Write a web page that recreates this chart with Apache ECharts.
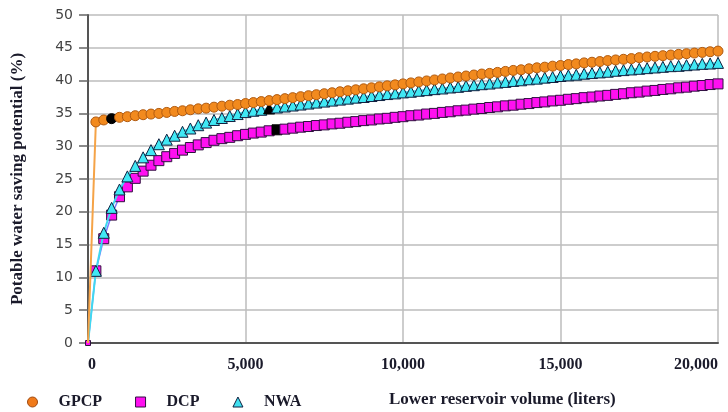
<!DOCTYPE html>
<html>
<head>
<meta charset="utf-8">
<script src="https://cdn.jsdelivr.net/npm/echarts@6/dist/echarts.min.js"></script>
<style>
  html, body { margin: 0; padding: 0; background: #fff; }
  #chart { width: 728px; height: 412px; }
</style>
</head>
<body>
<div id="chart"></div>
<script>
// 下部储水罐容积（升）
const volumes = [
  0, 250, 500, 750, 1000, 1250, 1500, 1750, 2000, 2250,
  2500, 2750, 3000, 3250, 3500, 3750, 4000, 4250, 4500, 4750,
  5000, 5250, 5500, 5750, 6000, 6250, 6500, 6750, 7000, 7250,
  7500, 7750, 8000, 8250, 8500, 8750, 9000, 9250, 9500, 9750,
  10000, 10250, 10500, 10750, 11000, 11250, 11500, 11750, 12000, 12250,
  12500, 12750, 13000, 13250, 13500, 13750, 14000, 14250, 14500, 14750,
  15000, 15250, 15500, 15750, 16000, 16250, 16500, 16750, 17000, 17250,
  17500, 17750, 18000, 18250, 18500, 18750, 19000, 19250, 19500, 19750,
  20000
]

const gpcp = [
  0, 33.7, 34.0, 34.2, 34.4, 34.5, 34.65, 34.8, 34.9, 35.0,
  35.15, 35.3, 35.4, 35.55, 35.7, 35.8, 35.95, 36.1, 36.25, 36.35,
  36.5, 36.65, 36.8, 36.95, 37.1, 37.25, 37.4, 37.55, 37.7, 37.85,
  38.0, 38.15, 38.3, 38.45, 38.6, 38.75, 38.9, 39.05, 39.2, 39.35,
  39.5, 39.65, 39.8, 39.95, 40.1, 40.25, 40.4, 40.55, 40.7, 40.85,
  41.0, 41.1, 41.25, 41.4, 41.55, 41.65, 41.8, 41.95, 42.05, 42.2,
  42.3, 42.45, 42.55, 42.7, 42.8, 42.9, 43.05, 43.15, 43.25, 43.35,
  43.5, 43.6, 43.7, 43.8, 43.9, 44.0, 44.1, 44.2, 44.3, 44.4,
  44.5
]

const dcp = [
  0, 11.0, 15.9, 19.5, 22.3, 23.8, 25.1, 26.2, 27.1, 27.8,
  28.4, 28.9, 29.4, 29.8, 30.2, 30.55, 30.9, 31.15, 31.35, 31.6,
  31.8, 32.0, 32.15, 32.35, 32.5, 32.6, 32.75, 32.9, 33.0, 33.15,
  33.25, 33.4, 33.5, 33.65, 33.75, 33.9, 34.0, 34.15, 34.25, 34.4,
  34.5, 34.65, 34.75, 34.9, 35.0, 35.15, 35.25, 35.4, 35.5, 35.65,
  35.75, 35.9, 36.0, 36.15, 36.25, 36.4, 36.5, 36.65, 36.75, 36.9,
  37.0, 37.15, 37.25, 37.4, 37.5, 37.65, 37.75, 37.9, 38.0, 38.15,
  38.25, 38.4, 38.5, 38.65, 38.75, 38.9, 39.0, 39.15, 39.25, 39.4,
  39.5
]

const nwa = [
  0, 11.0, 16.8, 20.6, 23.4, 25.4, 27.0, 28.3, 29.4, 30.3,
  31.0, 31.6, 32.2, 32.7, 33.2, 33.6, 34.0, 34.3, 34.6, 34.9,
  35.2, 35.4, 35.55, 35.75, 35.9, 36.05, 36.2, 36.35, 36.5, 36.65,
  36.8, 36.95, 37.1, 37.25, 37.4, 37.5, 37.65, 37.8, 37.95, 38.05,
  38.2, 38.3, 38.45, 38.55, 38.7, 38.8, 38.95, 39.05, 39.2, 39.3,
  39.45, 39.55, 39.7, 39.8, 39.95, 40.05, 40.2, 40.3, 40.45, 40.55,
  40.7, 40.8, 40.9, 41.05, 41.15, 41.25, 41.35, 41.5, 41.6, 41.7,
  41.8, 41.9, 42.0, 42.1, 42.2, 42.25, 42.35, 42.45, 42.55, 42.6,
  42.7
]

// 黑色标记点所在容积
const markGPCP = 750
const markDCP = 6000
const markNWA = 5750

const serif = '"Liberation Serif", "Times New Roman", serif'
const textColor = '#1a1a2a'

// 起点(0升)的标记大小单独处理
const toPoints = (ys, mark, firstSize) => volumes.map((v, i) => {
  if (v === mark) {
    return { value: [v, ys[i]], itemStyle: { color: '#000', borderColor: '#000' } }
  }
  if (i === 0) {
    return { value: [v, ys[i]], symbolSize: firstSize }
  }
  return [v, ys[i]]
})

const chart = echarts.init(document.getElementById('chart'))

const option = {
  animation: false,
  backgroundColor: '#fff',
  grid: {
    left: 88,
    right: 10,
    top: 15,
    bottom: 69,
    outerBoundsMode: 'none',
  },
  title: {
    text: 'Lower reservoir volume (liters)',
    left: 384,
    top: 386,
    textStyle: {
      fontFamily: serif,
      fontWeight: 'bold',
      fontSize: 17,
      color: textColor,
    },
  },
  legend: {
    left: 22,
    top: 389,
    itemWidth: 10,
    itemHeight: 10,
    itemGap: 33,
    textStyle: {
      fontFamily: serif,
      fontWeight: 'bold',
      fontSize: 16,
      color: textColor,
      padding: [0, 0, 0, 16],
    },
    data: [
      { name: 'GPCP', icon: 'circle', itemStyle: { color: '#F07A1A', borderColor: '#A04A10', borderWidth: 1 } },
      { name: 'DCP', icon: 'rect', itemStyle: { color: '#FF10F0', borderColor: '#301040', borderWidth: 1 } },
      { name: 'NWA', icon: 'triangle', itemStyle: { color: '#40E0F0', borderColor: '#102040', borderWidth: 1 } },
    ],
  },
  xAxis: {
    type: 'value',
    min: 0,
    max: 20000,
    interval: 5000,
    axisLine: { lineStyle: { color: '#555', width: 2 } },
    axisTick: { show: false },
    axisLabel: {
      margin: 14,
      fontFamily: serif,
      fontWeight: 'bold',
      fontSize: 16,
      color: textColor,
      alignMinLabel: 'left',
      alignMaxLabel: 'right',
      formatter: (v) => v.toLocaleString('en-US'),
    },
    splitLine: { show: true, lineStyle: { color: '#bcbcbc', width: 1.5 } },
  },
  yAxis: {
    type: 'value',
    min: 0,
    max: 50,
    interval: 5,
    name: 'Potable water saving potential (%)',
    nameLocation: 'middle',
    nameGap: 62,
    nameTextStyle: {
      fontFamily: serif,
      fontWeight: 'bold',
      fontSize: 17,
      color: textColor,
    },
    axisLine: { show: true, lineStyle: { color: '#555', width: 2 } },
    axisTick: { show: true, length: 9, lineStyle: { color: '#666', width: 1.5 } },
    axisLabel: {
      margin: 15,
      fontFamily: '"DejaVu Sans", Verdana, sans-serif',
      fontSize: 14,
      color: '#444',
    },
    splitLine: { show: true, lineStyle: { color: '#bcbcbc', width: 1.5 } },
  },
  series: [
    {
      name: 'DCP',
      type: 'line',
      data: toPoints(dcp, markDCP, 5),
      symbol: 'rect',
      symbolSize: 10,
      showAllSymbol: true,
      lineStyle: { color: '#7a7cff', width: 1.5 },
      itemStyle: { color: '#FF10F0', borderColor: '#301040', borderWidth: 1 },
      z: 2,
    },
    {
      name: 'NWA',
      type: 'line',
      data: toPoints(nwa, markNWA, 0),
      symbol: 'triangle',
      symbolSize: 11,
      showAllSymbol: true,
      lineStyle: { color: '#40D8F0', width: 2 },
      itemStyle: { color: '#40E8F4', borderColor: '#102040', borderWidth: 1 },
      z: 3,
    },
    {
      name: 'GPCP',
      type: 'line',
      data: toPoints(gpcp, markGPCP, 0),
      symbol: 'circle',
      symbolSize: 10,
      showAllSymbol: true,
      lineStyle: { color: '#F5A347', width: 2 },
      itemStyle: { color: '#F28A1E', borderColor: '#B05A10', borderWidth: 1 },
      z: 4,
    },
  ],
}

chart.setOption(option)
</script>
</body>
</html>
